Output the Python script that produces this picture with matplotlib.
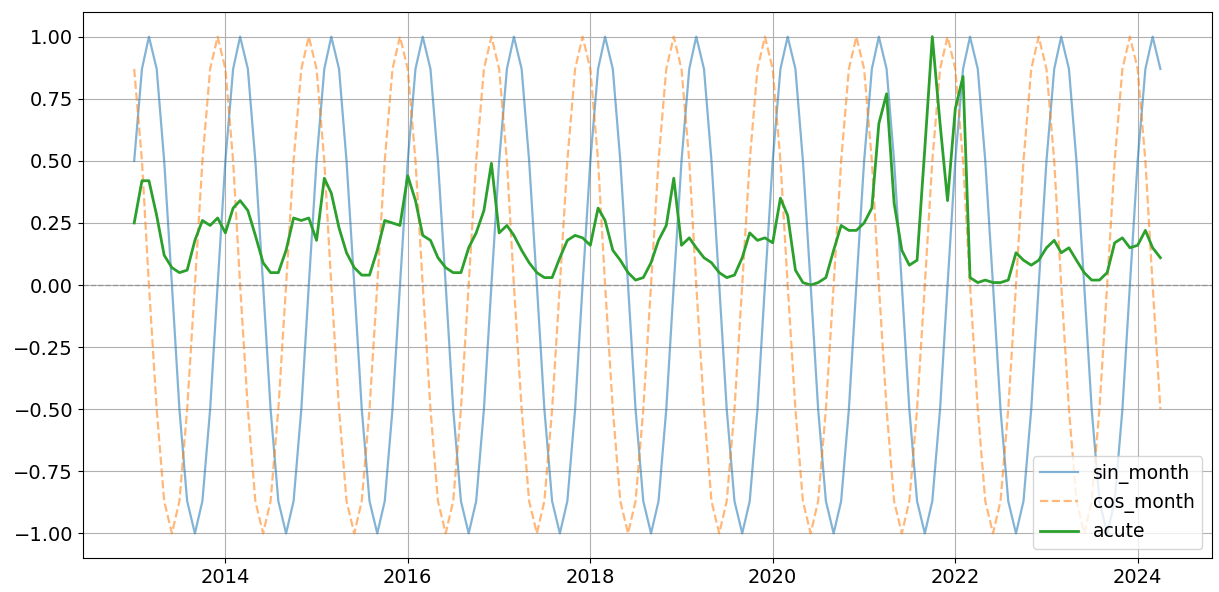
import pandas as pd
import matplotlib
matplotlib.use("Agg")
import matplotlib.pyplot as plt

# monthly index Jan 2013 .. Apr 2024
dates = pd.date_range("2013-01-01", periods=136, freq="MS")

# one year of the cyclic month encodings (Jan..Dec)
sin_cycle = [0.5, 0.87, 1.0, 0.87, 0.5, 0.0, -0.5, -0.87, -1.0, -0.87, -0.5, 0.0]
cos_cycle = [0.87, 0.5, 0.0, -0.5, -0.87, -1.0, -0.87, -0.5, 0.0, 0.5, 0.87, 1.0]
sin_month = (sin_cycle * 12)[:136]
cos_month = (cos_cycle * 12)[:136]

acute = [
    0.25, 0.42, 0.42, 0.28, 0.12, 0.07, 0.05, 0.06, 0.18, 0.26, 0.24, 0.27,
    0.21, 0.31, 0.34, 0.30, 0.20, 0.09, 0.05, 0.05, 0.14, 0.27, 0.26, 0.27,
    0.18, 0.43, 0.37, 0.23, 0.13, 0.07, 0.04, 0.04, 0.14, 0.26, 0.25, 0.24,
    0.44, 0.34, 0.20, 0.18, 0.11, 0.07, 0.05, 0.05, 0.15, 0.21, 0.30, 0.49,
    0.21, 0.24, 0.20, 0.14, 0.09, 0.05, 0.03, 0.03, 0.11, 0.18, 0.20, 0.19,
    0.16, 0.31, 0.26, 0.14, 0.10, 0.05, 0.02, 0.03, 0.09, 0.18, 0.24, 0.43,
    0.16, 0.19, 0.15, 0.11, 0.09, 0.05, 0.03, 0.04, 0.11, 0.21, 0.18, 0.19,
    0.17, 0.35, 0.28, 0.06, 0.01, 0.00, 0.01, 0.03, 0.14, 0.24, 0.22, 0.22,
    0.25, 0.31, 0.65, 0.77, 0.33, 0.14, 0.08, 0.10, 0.55, 1.00, 0.65, 0.34,
    0.71, 0.84, 0.03, 0.01, 0.02, 0.01, 0.01, 0.02, 0.13, 0.10, 0.08, 0.10,
    0.15, 0.18, 0.13, 0.15, 0.10, 0.05, 0.02, 0.02, 0.05, 0.17, 0.19, 0.15,
    0.16, 0.22, 0.15, 0.11,
]

plt.rcParams["font.size"] = 14
fig = plt.figure(figsize=(12.19, 5.92), dpi=100)
ax = fig.add_axes([0.068, 0.057, 0.926, 0.923])

ax.plot(dates, sin_month, color="tab:blue", alpha=0.55, lw=1.6, label="sin_month")
ax.plot(dates, cos_month, color="tab:orange", alpha=0.55, lw=1.6, ls="--", label="cos_month")
ax.plot(dates, acute, color="tab:green", lw=2, label="acute")
ax.axhline(0, color="gray", ls="--", lw=1, alpha=0.6)

ax.set_ylim(-1.1, 1.1)
ax.grid(True)
ax.legend(loc="lower right", fontsize=13.5)

fig.savefig("out.png")
